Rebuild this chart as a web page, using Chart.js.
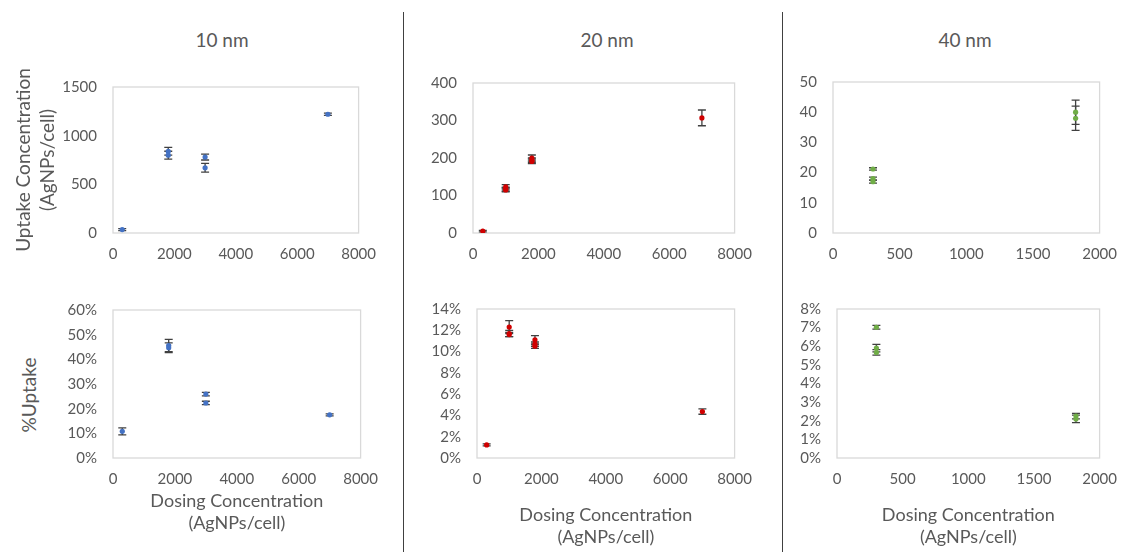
<!DOCTYPE html>
<html>
<head>
<meta charset="utf-8">
<script src="https://cdn.jsdelivr.net/npm/chart.js@4"></script>
<style>
  body { margin: 0; background: #fff; width: 1129px; height: 552px; position: relative; overflow: hidden; font-family: Lato, sans-serif; }
  canvas { position: absolute; }
  .title { position: absolute; font-size: 19px; color: #595959; transform: translate(-50%, -50%); white-space: nowrap; }
  .divider { position: absolute; width: 1px; background: #404040; top: 12px; bottom: 0; }
  .ylab { position: absolute; font-size: 19px; color: #595959; white-space: nowrap; transform: translate(-50%, -50%) rotate(-90deg); }
</style>
</head>
<body>
<div class="title" style="left:222px; top:39px">10 nm</div>
<div class="title" style="left:607px; top:39px">20 nm</div>
<div class="title" style="left:965px; top:39px">40 nm</div>
<div class="divider" style="left:403px"></div>
<div class="divider" style="left:782px"></div>
<div class="ylab" style="left:28px; top:395px">%Uptake</div>

<canvas id="c10up" width="388" height="211" style="left:0px; top:62px"></canvas>
<canvas id="c20up" width="341" height="215" style="left:423px; top:58px"></canvas>
<canvas id="c40up" width="346" height="216" style="left:783px; top:57px"></canvas>
<canvas id="c10pct" width="390" height="249" style="left:0px; top:285px"></canvas>
<canvas id="c20pct" width="337" height="264" style="left:427px; top:284px"></canvas>
<canvas id="c40pct" width="342" height="264" style="left:787px; top:284px"></canvas>

<script>
// 10 nm
const dose10 = [300, 1800, 1800, 3000, 3000, 7000];
const uptake10 = [35, 840, 800, 780, 670, 1220];
const uptake10Err = [10, 40, 40, 30, 45, 12];
const pct10 = [10.8, 45.6, 44.7, 25.9, 22.3, 17.5];
const pct10Err = [1.4, 2.5, 2.0, 0.7, 0.7, 0.4];

// 20 nm
const dose20 = [300, 1000, 1000, 1000, 1800, 1800, 1800, 7000];
const uptake20 = [5, 123, 117, 115, 200, 194, 191, 307];
const uptake20Err = [2, 6, 5, 5, 8, 6, 6, 21];
const pct20 = [1.23, 12.3, 11.7, 11.6, 11.1, 10.7, 10.5, 4.36];
const pct20Err = [0.1, 0.6, 0.3, 0.2, 0.4, 0.2, 0.2, 0.25];

// 40 nm
const dose40 = [300, 300, 300, 1820, 1820];
const uptake40 = [21.2, 18.0, 17.0, 40.0, 38.0];
const uptake40Err = [0.4, 0.5, 0.5, 4, 4];
const pct40 = [7.02, 5.9, 5.67, 2.25, 2.1];
const pct40Err = [0.1, 0.2, 0.15, 0.15, 0.2];

const TEXT = '#595959';
const FONT = 'Lato, sans-serif';

function toPoints(xs, ys, errs) {
    return xs.map((x, i) => ({ x: x, y: ys[i], err: errs[i] }));
}

// plot area frame + error bars drawn under the markers
const frameAndErrors = {
    id: 'frameAndErrors',
    beforeDatasetsDraw(chart) {
        const { ctx, chartArea: a, scales: { y } } = chart;
        ctx.save();
        ctx.strokeStyle = '#d9d9d9';
        ctx.lineWidth = 1.3;
        ctx.strokeRect(a.left, a.top, a.right - a.left, a.bottom - a.top);
        ctx.strokeStyle = '#404040';
        ctx.lineWidth = 1.3;
        chart.data.datasets.forEach((ds, i) => {
            chart.getDatasetMeta(i).data.forEach((pt, j) => {
                const d = ds.data[j];
                const top = y.getPixelForValue(d.y + d.err);
                const bot = y.getPixelForValue(d.y - d.err);
                ctx.beginPath();
                ctx.moveTo(pt.x, top); ctx.lineTo(pt.x, bot);
                ctx.moveTo(pt.x - 4, top); ctx.lineTo(pt.x + 4, top);
                ctx.moveTo(pt.x - 4, bot); ctx.lineTo(pt.x + 4, bot);
                ctx.stroke();
            });
        });
        ctx.restore();
    }
};

function makeChart(cfg) {
    const ctx = document.getElementById(cfg.id).getContext('2d');
    return new Chart(ctx, {
        type: 'scatter',
        data: {
            datasets: [{
                data: cfg.points,
                backgroundColor: cfg.color,
                borderColor: cfg.color,
                pointRadius: 2.6,
                pointBorderWidth: 0
            }]
        },
        options: {
            responsive: false,
            animation: false,
            layout: { padding: { top: 10, right: cfg.padRight, left: 0, bottom: 0 } },
            plugins: { legend: { display: false }, tooltip: { enabled: false } },
            scales: {
                x: {
                    type: 'linear',
                    min: 0,
                    max: cfg.xMax,
                    grid: { display: false, drawTicks: false },
                    border: { display: false },
                    ticks: {
                        stepSize: cfg.xStep, autoSkip: false, maxRotation: 0,
                        color: TEXT, font: { family: FONT, size: 15 }, padding: 12,
                        callback: (v) => String(v)
                    },
                    title: {
                        display: cfg.xTitle,
                        text: ['Dosing Concentration', '(AgNPs/cell)'],
                        color: TEXT,
                        font: { family: FONT, size: 18, lineHeight: 1.22 },
                        padding: { top: 0, bottom: 0 }
                    },
                    afterFit: (s) => { s.height = cfg.xAxisH; }
                },
                y: {
                    type: 'linear',
                    min: 0,
                    max: cfg.yMax,
                    grid: { display: false, drawTicks: false },
                    border: { display: false },
                    ticks: {
                        stepSize: cfg.yStep, autoSkip: false,
                        color: TEXT, font: { family: FONT, size: 15 }, padding: 16,
                        callback: (v) => cfg.pct ? v + '%' : String(v)
                    },
                    title: {
                        display: !!cfg.yTitle,
                        text: cfg.yTitle || '',
                        color: TEXT,
                        font: { family: FONT, size: 19, lineHeight: 1.25 },
                        padding: { top: 12, bottom: 0 }
                    },
                    afterFit: (s) => { s.width = cfg.yAxisW; }
                }
            }
        },
        plugins: [frameAndErrors]
    });
}

const BLUE = '#4472c4';
const RED = '#d00000';
const GREEN = '#70ad47';

makeChart({ id: 'c10up', points: toPoints(dose10, uptake10, uptake10Err), color: BLUE,
    xMax: 8000, xStep: 2000, yMax: 1500, yStep: 500, pct: false,
    yAxisW: 113, xAxisH: 40, padRight: 25, xTitle: false,
    yTitle: ['Uptake Concentration', '(AgNPs/cell)'] });
makeChart({ id: 'c20up', points: toPoints(dose20, uptake20, uptake20Err), color: RED,
    xMax: 8000, xStep: 2000, yMax: 400, yStep: 100, pct: false,
    yAxisW: 50, xAxisH: 40, padRight: 25, xTitle: false });
makeChart({ id: 'c40up', points: toPoints(dose40, uptake40, uptake40Err), color: GREEN,
    xMax: 2000, xStep: 500, yMax: 50, yStep: 10, pct: false,
    yAxisW: 50, xAxisH: 40, padRight: 20, xTitle: false });
makeChart({ id: 'c10pct', points: toPoints(dose10, pct10, pct10Err), color: BLUE,
    xMax: 8000, xStep: 2000, yMax: 60, yStep: 10, pct: true,
    yAxisW: 113, xAxisH: 76, padRight: 25, xTitle: true });
makeChart({ id: 'c20pct', points: toPoints(dose20, pct20, pct20Err), color: RED,
    xMax: 8000, xStep: 2000, yMax: 14, yStep: 2, pct: true,
    yAxisW: 50, xAxisH: 90, padRight: 25, xTitle: true });
makeChart({ id: 'c40pct', points: toPoints(dose40, pct40, pct40Err), color: GREEN,
    xMax: 2000, xStep: 500, yMax: 8, yStep: 1, pct: true,
    yAxisW: 50, xAxisH: 90, padRight: 20, xTitle: true });
</script>
</body>
</html>
